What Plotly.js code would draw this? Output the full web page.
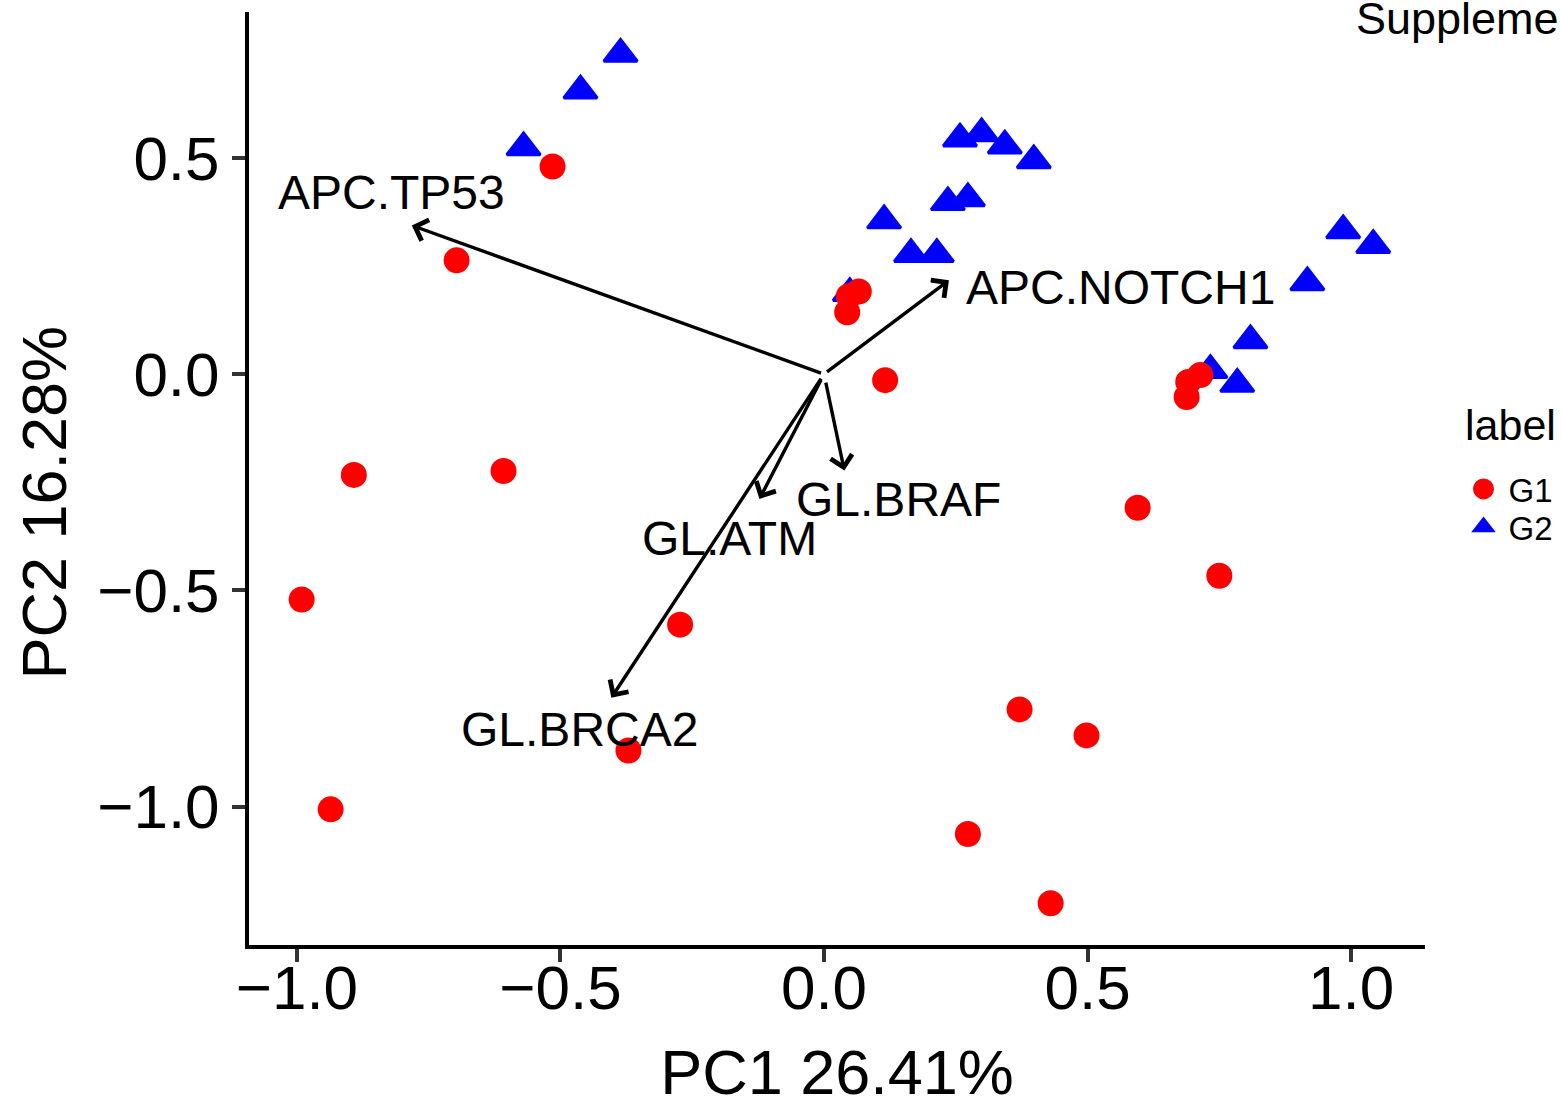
<!DOCTYPE html>
<html>
<head>
<meta charset="utf-8">
<script src="https://cdn.plot.ly/plotly-3.0.1.min.js"></script>
<style>
html, body { margin: 0; padding: 0; background: #ffffff; overflow: hidden; }
#chart { width: 1561px; height: 1107px; }
</style>
</head>
<body>
<div id="chart"></div>
<script>
// ---- data ----
const g1X = [-0.515, -0.697, -0.892, -0.608, -0.991, -0.936, -0.273, -0.371, 0.116, 0.066, 0.047, 0.044, 0.714, 0.691, 0.688, 0.595, 0.750, 0.371, 0.498, 0.273, 0.430];
const g1Y = [0.480, 0.263, -0.233, -0.224, -0.521, -1.006, -0.579, -0.870, -0.014, 0.191, 0.180, 0.143, -0.002, -0.018, -0.053, -0.309, -0.466, -0.775, -0.835, -1.063, -1.223];

const g2X = [-0.386, -0.462, -0.570, 0.258, 0.299, 0.343, 0.398, 0.235, 0.273, 0.114, 0.165, 0.214, 0.049, 0.809, 0.733, 0.784, 0.985, 1.042, 0.917];
const g2Y = [0.740, 0.655, 0.524, 0.544, 0.556, 0.528, 0.494, 0.397, 0.406, 0.355, 0.277, 0.277, 0.187, 0.078, 0.009, -0.023, 0.332, 0.298, 0.212];

const varNames = ["APC.TP53", "APC.NOTCH1", "GL.BRAF", "GL.ATM", "GL.BRCA2"];
const arrowX = [-0.782, 0.237, 0.0386, -0.1225, -0.4034];
const arrowY = [0.3437, 0.2168, -0.223, -0.2884, -0.748];
const labelX = [-0.821, 0.5616, 0.141, -0.1799, -0.463];
const labelY = [0.4187, 0.1995, -0.2895, -0.381, -0.822];

const tickVals = [-1.0, -0.5, 0.0, 0.5, 1.0];
const tickText = ["\u22121.0", "\u22120.5", "0.0", "0.5", "1.0"];

const xTitle = "PC1 26.41%";
const yTitle = "PC2 16.28%";
const legendTitle = "label";
const groupNames = ["G1", "G2"];
const topText = "Supplementary";

// ---- chart ----
const FONT = "Liberation Sans, Arial, Helvetica, sans-serif";

const traces = [
  {
    x: g2X, y: g2Y, name: groupNames[1], type: "scatter", mode: "markers",
    legend: "legend2",
    marker: { symbol: "triangle-up", size: 29, color: "#0000FF", line: { color: "#0000FF", width: 3 } },
    hoverinfo: "x+y+name"
  },
  {
    x: g1X, y: g1Y, name: groupNames[0], type: "scatter", mode: "markers",
    legend: "legend",
    marker: { symbol: "circle", size: 21, color: "#FF0000", line: { color: "#FF0000", width: 5 } },
    hoverinfo: "x+y+name"
  }
];

const annotations = [];
for (let i = 0; i < varNames.length; i++) {
  annotations.push({
    x: arrowX[i], y: arrowY[i], xref: "x", yref: "y",
    ax: 0, ay: 0, axref: "x", ayref: "y",
    text: " ", showarrow: true,
    arrowhead: 4, arrowsize: 1.25, arrowwidth: 3.4, arrowcolor: "#000000",
    standoff: 0, startstandoff: 0
  });
}
for (let i = 0; i < varNames.length; i++) {
  annotations.push({
    x: labelX[i], y: labelY[i], xref: "x", yref: "y",
    text: varNames[i], showarrow: false,
    xanchor: "center", yanchor: "middle",
    font: { family: FONT, size: 48, color: "#000000" }
  });
}
annotations.push({
  x: 0.9395, y: 1.022, xref: "paper", yref: "paper",
  text: topText, showarrow: false, xanchor: "left", yanchor: "top",
  font: { family: FONT, size: 45, color: "#000000" }
});
annotations.push({
  x: -0.1746, y: 0.4738, xref: "paper", yref: "paper",
  text: yTitle, showarrow: false, textangle: -90,
  xanchor: "center", yanchor: "middle",
  font: { family: FONT, size: 63, color: "#000000" }
});
// legend title
annotations.push({
  x: 1.032, y: 0.557, xref: "paper", yref: "paper",
  text: legendTitle, showarrow: false,
  xanchor: "left", yanchor: "middle",
  font: { family: FONT, size: 43, color: "#000000" }
});

const legendCommon = {
  xanchor: "left", yanchor: "middle",
  bgcolor: "rgba(0,0,0,0)", borderwidth: 0,
  font: { family: FONT, size: 33, color: "#000000" },
  itemsizing: "trace", itemwidth: 40
};

const layout = {
  width: 1561, height: 1107,
  margin: { l: 249, r: 136, t: 12, b: 162, pad: 0, autoexpand: false },
  paper_bgcolor: "#ffffff", plot_bgcolor: "#ffffff",
  font: { family: FONT, color: "#000000" },
  showlegend: true,
  xaxis: {
    range: [-1.0909, 1.1402],
    showgrid: false, zeroline: false,
    showline: true, linecolor: "#000000", linewidth: 4,
    ticks: "outside", ticklen: 13, tickwidth: 4, tickcolor: "#333333",
    tickvals: tickVals, ticktext: tickText,
    ticklabelstandoff: -27,
    tickfont: { family: FONT, size: 62, color: "#000000" },
    title: { text: xTitle, font: { family: FONT, size: 63, color: "#000000" }, standoff: 38 },
    automargin: false
  },
  yaxis: {
    range: [-1.3195, 0.837],
    showgrid: false, zeroline: false,
    showline: true, linecolor: "#000000", linewidth: 4,
    ticks: "outside", ticklen: 13, tickwidth: 4, tickcolor: "#333333",
    tickvals: tickVals, ticktext: tickText,
    tickfont: { family: FONT, size: 62, color: "#000000" },
    automargin: false
  },
  legend: Object.assign({ x: 1.0285, y: 0.4888 }, legendCommon),
  legend2: Object.assign({ x: 1.0285, y: 0.4481 }, legendCommon),
  annotations: annotations,
  hovermode: "closest"
};

Plotly.newPlot("chart", traces, layout, { displayModeBar: false });
</script>
</body>
</html>
